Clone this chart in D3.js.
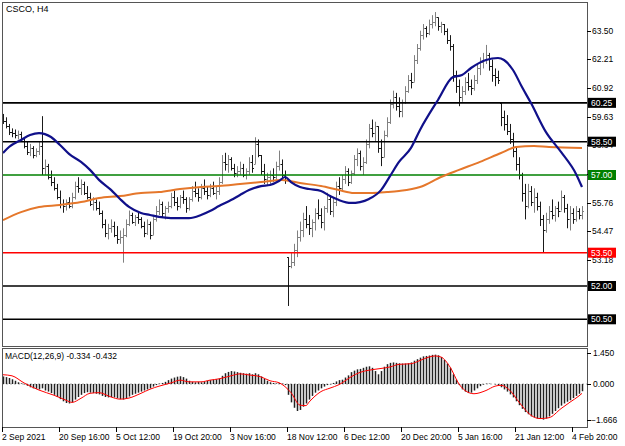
<!DOCTYPE html>
<html><head><meta charset="utf-8">
<script src="https://cdn.jsdelivr.net/npm/d3@7"></script>
<style>
html,body{margin:0;padding:0;background:#fff;}
svg{display:block;font-family:"Liberation Sans",Arial,sans-serif;}
</style></head><body>
<svg id="c" width="625" height="446"></svg>
<script>
// ---------- DATA ----------
const symbolTitle = "CSCO, H4";
const barHigh = [
59.75,59.6,59.3,59.1,59.05,59.0,58.95,58.7,58.5,58.4,
58.3,58.2,58.5,59.65,57.7,57.5,57.2,56.9,56.6,56.3,
55.9,55.9,56.0,56.2,56.7,56.9,56.8,56.7,56.5,56.2,
56.0,55.9,55.8,55.4,55.0,54.8,55.0,54.9,54.7,54.5,
54.6,55.0,55.4,55.3,55.2,55.3,55.1,54.9,55.0,54.9,
55.1,55.6,55.9,55.8,55.6,55.8,56.2,56.3,56.0,56.1,
56.3,56.0,56.0,56.5,56.7,56.4,56.6,56.8,56.5,56.6,
56.7,56.5,56.9,57.9,58.0,57.9,57.8,57.5,57.4,57.6,
57.5,57.3,57.8,57.9,58.7,58.6,57.9,57.5,57.1,57.2,
57.3,57.6,58.1,57.7,57.2,53.3,53.5,53.9,54.5,54.9,
55.3,55.6,55.2,55.0,55.5,55.9,55.5,55.6,56.2,56.1,
56.0,56.7,56.9,57.0,57.4,57.3,57.2,57.9,58.2,58.1,
57.8,58.6,59.3,59.5,59.4,59.2,58.6,59.0,59.6,60.4,
60.8,60.7,60.5,60.4,61.0,61.5,61.6,62.4,62.9,63.5,
63.8,63.7,64.0,64.2,64.34,64.1,63.9,63.8,63.6,63.3,
62.9,61.7,61.3,61.0,61.4,61.6,61.3,61.5,62.0,62.3,
62.5,62.86,62.5,62.2,61.8,61.7,60.25,59.9,59.7,59.3,
58.9,58.3,57.8,57.1,56.6,56.6,56.5,56.4,56.2,55.8,
55.2,55.3,55.6,55.9,55.6,55.8,56.3,56.1,55.7,55.6,
55.5,55.6,55.5,55.6];
const barLow = [
59.3,59.1,58.8,58.7,58.65,58.6,58.55,58.2,57.9,57.85,
57.75,57.8,57.9,57.0,57.0,56.8,56.5,56.3,55.9,55.5,
55.3,55.4,55.5,55.5,55.9,56.2,56.1,56.1,55.9,55.6,
55.4,55.4,55.2,54.6,54.2,54.1,54.4,54.2,53.9,53.9,
53.05,54.2,54.7,54.8,54.7,54.8,54.6,54.2,54.3,54.1,
54.3,54.9,55.2,55.1,55.0,55.3,55.5,55.6,55.4,55.5,
55.7,55.3,55.4,55.8,56.0,55.8,55.9,56.1,55.9,56.0,
56.1,55.9,56.1,56.6,57.2,57.1,57.2,56.9,56.9,57.0,
56.9,56.8,57.0,57.1,57.5,57.8,57.0,56.6,56.5,56.6,
56.7,56.8,57.2,56.8,56.6,51.1,52.8,52.9,53.3,54.0,
54.2,54.6,54.3,54.2,54.5,55.0,54.6,54.5,55.3,55.2,
55.1,55.6,56.1,56.3,56.6,56.5,56.6,57.0,57.4,57.2,
57.0,57.5,58.2,58.7,58.5,58.0,57.4,57.8,58.7,59.3,
60.0,59.9,59.6,59.6,60.2,60.7,60.9,61.2,62.0,62.6,
63.1,63.2,63.3,63.6,63.7,63.5,63.4,63.3,62.9,62.6,
61.2,60.7,60.1,60.3,60.6,60.8,60.6,60.8,61.1,61.5,
61.8,62.0,61.7,61.2,61.0,61.1,59.2,59.0,58.8,58.4,
57.8,57.2,56.8,55.8,55.0,55.5,55.6,55.3,55.4,54.7,
53.5,54.4,54.8,55.0,54.9,55.1,55.4,55.3,54.6,54.5,
54.8,54.9,55.0,55.0];
const barClose = [
59.45,59.2,58.95,58.9,58.8,58.85,58.65,58.3,58.05,58.2,
57.9,58.1,58.3,57.3,57.4,56.9,56.7,56.4,56.0,55.7,
55.6,55.8,55.6,56.0,56.5,56.4,56.6,56.2,56.0,55.7,
55.8,55.5,55.3,54.8,54.4,54.6,54.7,54.3,54.1,54.2,
54.3,54.8,55.2,54.9,55.1,55.0,54.7,54.4,54.8,54.3,
55.0,55.4,55.7,55.3,55.5,55.6,56.0,55.8,55.6,56.0,
55.9,55.5,55.9,56.3,56.2,56.0,56.4,56.3,56.1,56.4,
56.2,56.3,56.7,57.6,57.5,57.7,57.3,57.1,57.2,57.3,
57.0,57.2,57.6,57.3,58.4,57.9,57.2,56.8,56.9,57.0,
56.9,57.4,57.5,57.0,56.9,52.9,53.1,53.6,54.2,54.5,
55.0,54.8,54.6,54.9,55.3,55.2,54.9,55.5,55.9,55.4,
55.8,56.5,56.4,56.8,57.2,56.7,57.1,57.7,58.0,57.4,
57.6,58.4,59.1,58.9,59.2,58.2,57.8,58.8,59.4,60.2,
60.5,60.1,59.9,60.3,60.8,61.3,61.2,62.2,62.7,63.3,
63.6,63.4,63.8,63.9,64.1,63.7,63.8,63.5,63.1,62.8,
61.5,61.0,60.5,60.8,61.2,61.0,60.9,61.3,61.8,62.1,
62.2,62.4,61.9,61.5,61.4,61.3,59.6,59.3,59.0,58.6,
58.1,57.5,57.0,56.2,55.6,56.3,55.8,56.0,55.6,55.0,
54.5,55.0,55.4,55.2,55.5,55.4,56.0,55.5,55.0,55.3,
55.0,55.4,55.2,55.4];
const firstOpen = 59.6;

// blue moving average, sampled at bar indices
const maFastBars = [0,2,6,9,12,16,19,22,26,29,32,36,39,42,46,49,52,56,59,62,66,69,72,76,79,82,86,89,92,94,96,99,102,106,109,112,116,119,122,126,129,132,136,139,145,150,153,156,161,165,167,170,173,176,181,186,191,193];
const maFastVals = [57.99,58.26,58.58,58.80,58.89,58.71,58.35,57.95,57.59,57.23,56.78,56.33,55.92,55.56,55.29,55.20,55.11,55.06,55.06,55.06,55.20,55.38,55.60,55.87,56.10,56.32,56.50,56.55,56.73,56.91,56.68,56.46,56.37,56.28,56.05,55.87,55.74,55.78,55.92,56.32,56.95,57.59,58.22,59.03,60.38,61.41,61.50,61.82,62.18,62.27,62.18,61.73,60.96,60.24,58.93,58.04,57.05,56.46];
// orange moving average, sampled at bar indices
const maSlowBars = [0,6,12,19,26,32,39,46,52,59,66,72,79,86,93,99,106,112,117,123,128,132,139,146,152,159,166,171,177,182,193];
const maSlowVals = [54.97,55.33,55.56,55.65,55.78,55.96,56.05,56.19,56.23,56.37,56.46,56.50,56.59,56.68,56.77,56.64,56.50,56.32,56.19,56.19,56.23,56.28,56.46,56.91,57.23,57.59,57.99,58.26,58.31,58.26,58.22];

const levelValues = [60.25, 58.50, 57.00, 53.50, 52.00, 50.50];
const levelKinds = ["black","black","green","red","black","black"];
const priceTicks = [63.50, 62.21, 60.92, 59.63, 58.34, 57.05, 55.76, 54.47, 53.18];

// MACD main (histogram), one per bar
const macdMain = [
0.35,0.32,0.28,0.22,0.15,0.08,0.03,-0.02,-0.08,-0.15,
-0.2,-0.22,-0.25,-0.2,-0.3,-0.35,-0.42,-0.5,-0.6,-0.7,
-0.8,-0.88,-0.9,-0.85,-0.72,-0.6,-0.5,-0.42,-0.38,-0.4,
-0.42,-0.45,-0.48,-0.55,-0.6,-0.62,-0.6,-0.62,-0.66,-0.7,
-0.72,-0.66,-0.58,-0.5,-0.45,-0.4,-0.35,-0.3,-0.25,-0.2,
-0.12,-0.05,0.02,0.05,0.1,0.18,0.25,0.3,0.34,0.36,
0.32,0.25,0.15,0.1,0.08,0.1,0.08,0.12,0.15,0.18,
0.2,0.22,0.25,0.38,0.5,0.56,0.6,0.58,0.55,0.52,
0.5,0.48,0.5,0.45,0.5,0.45,0.35,0.25,0.15,0.08,
0.05,0.03,0.05,0.02,-0.05,-0.5,-0.85,-1.1,-1.25,-1.2,
-1.05,-0.9,-0.72,-0.55,-0.4,-0.3,-0.2,-0.12,-0.05,-0.02,
0.05,0.12,0.18,0.2,0.3,0.4,0.55,0.62,0.68,0.7,
0.75,0.8,0.82,0.75,0.6,0.45,0.6,0.8,0.92,0.98,
1.0,0.98,0.96,0.95,0.95,0.96,1.0,1.08,1.15,1.22,
1.28,1.3,1.32,1.35,1.36,1.33,1.25,1.12,0.95,0.75,
0.45,0.2,-0.05,-0.25,-0.35,-0.42,-0.4,-0.3,-0.2,-0.1,
-0.03,0.02,0.02,0.0,-0.02,-0.05,-0.15,-0.25,-0.35,-0.48,
-0.62,-0.8,-0.98,-1.15,-1.3,-1.4,-1.5,-1.55,-1.6,-1.62,
-1.65,-1.6,-1.5,-1.38,-1.25,-1.12,-1.0,-0.9,-0.82,-0.75,
-0.65,-0.55,-0.45,-0.334];
// MACD signal, sampled at bar indices
const signalBars = [0,3,7,12,17,21,23,26,29,32,36,39,42,46,49,52,56,59,62,66,69,72,76,79,82,86,89,92,96,99,101,102,106,109,112,116,119,122,126,129,132,136,139,142,144,146,149,152,154,157,161,164,166,169,172,176,179,182,186,189,192,193];
const signalVals = [0.43,0.38,0.05,-0.28,-0.52,-0.75,-0.85,-0.66,-0.43,-0.4,-0.6,-0.7,-0.65,-0.43,-0.24,-0.1,0.05,0.18,0.1,0.1,0.18,0.24,0.38,0.47,0.42,0.33,0.15,0.06,-0.4,-0.98,-1.0,-0.84,-0.35,-0.19,-0.03,0.33,0.54,0.64,0.72,0.79,0.91,0.94,1.09,1.25,1.30,1.25,0.79,0.0,-0.3,-0.45,-0.3,-0.1,-0.06,-0.3,-0.84,-1.45,-1.6,-1.56,-1.14,-0.84,-0.55,-0.432];
const macdTicks = [1.450, 0.000, -1.666];
const macdLabel = "MACD(12,26,9) -0.334 -0.432";

const timeLabels = ["2 Sep 2021","20 Sep 16:00","5 Oct 12:00","19 Oct 20:00","3 Nov 16:00","18 Nov 12:00","6 Dec 12:00","20 Dec 20:00","5 Jan 16:00","21 Jan 12:00","4 Feb 20:00"];
const timeLabelBars = [0,19,38,57,76,95,114,133,152,171,190];

// ---------- LAYOUT ----------
const L = 2, R = 587, mainTop = 2, mainBot = 346, subTop = 348, subBot = 427;
const FONT = 8.5;
const svg = d3.select("#c");
const N = barClose.length;

const x = d3.scaleLinear().domain([0, N - 1]).range([3, 3 + 3 * (N - 1)]);
const y = d3.scaleLinear().domain([49.297, 64.793]).range([mainBot, mainTop]);
const ym = d3.scaleLinear().domain([-1.666, 1.450]).range([420, 352.7]);

svg.append("rect").attr("width", 625).attr("height", 446).attr("fill", "#fff");

const defs = svg.append("defs");
defs.append("clipPath").attr("id", "cm").append("rect")
  .attr("x", L).attr("y", mainTop).attr("width", R - L).attr("height", mainBot - mainTop);
defs.append("clipPath").attr("id", "cs").append("rect")
  .attr("x", L).attr("y", subTop).attr("width", R - L).attr("height", subBot - subTop);

const gMain = svg.append("g").attr("clip-path", "url(#cm)");
const gSub = svg.append("g").attr("clip-path", "url(#cs)");

// ---------- PRICE BARS ----------
const bars = barClose.map((c, i) => {
  const prev = i === 0 ? firstOpen : barClose[i - 1];
  const o = Math.min(Math.max(prev, barLow[i]), barHigh[i]);
  return { i, o, h: barHigh[i], l: barLow[i], c };
});
gMain.append("g").selectAll("path").data(bars).join("path")
  .attr("d", d => {
    const xc = Math.round(x(d.i)) + 0.5;
    const yo = Math.round(y(d.o)) + 0.5, yc = Math.round(y(d.c)) + 0.5;
    return `M${xc},${y(d.h)}V${y(d.l)}M${xc - 1.5},${yo}H${xc}M${xc},${yc}H${xc + 1.5}`;
  })
  .attr("fill", "none")
  .attr("stroke", d => d.c >= d.o ? "#808080" : "#1a1a1a")
  .attr("stroke-width", 1);

// ---------- LEVELS ----------
const kindColor = { black: "#000000", green: "#008000", red: "#ff0000" };
gMain.append("g").selectAll("line").data(levelValues).join("line")
  .attr("x1", L).attr("x2", R)
  .attr("y1", d => y(d)).attr("y2", d => y(d))
  .attr("stroke", (d, i) => kindColor[levelKinds[i]])
  .attr("stroke-width", 1.6);

// ---------- MOVING AVERAGES ----------
const maLine = d3.line().x(d => x(d[0])).y(d => y(d[1])).curve(d3.curveMonotoneX);
gMain.append("path").datum(maSlowBars.map((b, k) => [b, maSlowVals[k]]))
  .attr("d", maLine).attr("fill", "none").attr("stroke", "#e5772b").attr("stroke-width", 2);
gMain.append("path").datum(maFastBars.map((b, k) => [b, maFastVals[k]]))
  .attr("d", maLine).attr("fill", "none").attr("stroke", "#10108a").attr("stroke-width", 2.2);

// ---------- MACD ----------
gSub.append("line").attr("x1", L).attr("x2", R).attr("y1", ym(0)).attr("y2", ym(0))
  .attr("stroke", "#b0b0b0").attr("stroke-dasharray", "2,2");
gSub.append("g").selectAll("line").data(macdMain).join("line")
  .attr("x1", (d, i) => Math.round(x(i)) + 0.5).attr("x2", (d, i) => Math.round(x(i)) + 0.5)
  .attr("y1", ym(0)).attr("y2", d => ym(d))
  .attr("stroke", "#222").attr("stroke-width", 1.5);
const sigLine = d3.line().x(d => x(d[0])).y(d => ym(d[1])).curve(d3.curveMonotoneX);
gSub.append("path").datum(signalBars.map((b, k) => [b, signalVals[k]]))
  .attr("d", sigLine).attr("fill", "none").attr("stroke", "#ff0000").attr("stroke-width", 1);

// ---------- FRAMES ----------
svg.append("rect").attr("x", L + 0.5).attr("y", mainTop + 0.5).attr("width", R - L).attr("height", mainBot - mainTop)
  .attr("fill", "none").attr("stroke", "#555");
svg.append("rect").attr("x", L + 0.5).attr("y", subTop + 0.5).attr("width", R - L).attr("height", subBot - subTop)
  .attr("fill", "none").attr("stroke", "#555");

// ---------- TEXTS ----------
svg.append("text").attr("x", 6).attr("y", 11.5).attr("font-size", 9).attr("fill", "#000").text(symbolTitle);
svg.append("text").attr("x", 5).attr("y", 359).attr("font-size", FONT).attr("fill", "#000").text(macdLabel);

// price axis
const pa = svg.append("g");
pa.selectAll("line").data(priceTicks).join("line")
  .attr("x1", R).attr("x2", R + 4).attr("y1", d => Math.round(y(d)) + 0.5).attr("y2", d => Math.round(y(d)) + 0.5)
  .attr("stroke", "#000");
pa.selectAll("text").data(priceTicks).join("text")
  .attr("x", R + 5).attr("y", d => y(d)).attr("dy", "0.35em")
  .attr("font-size", FONT).attr("fill", "#000").text(d => d3.format(".2f")(d));

// level labels
const ll = svg.append("g");
levelValues.forEach((v, i) => {
  const yy = y(v);
  ll.append("rect").attr("x", R + 1).attr("y", yy - 5).attr("width", 28).attr("height", 10)
    .attr("fill", kindColor[levelKinds[i]]);
  ll.append("text").attr("x", R + 4).attr("y", yy).attr("dy", "0.35em")
    .attr("font-size", FONT).attr("fill", "#fff").text(d3.format(".2f")(v));
});

// macd axis
const ma = svg.append("g");
ma.selectAll("line").data(macdTicks).join("line")
  .attr("x1", R).attr("x2", R + 4).attr("y1", d => Math.round(ym(d)) + 0.5).attr("y2", d => Math.round(ym(d)) + 0.5)
  .attr("stroke", "#000");
ma.selectAll("text").data(macdTicks).join("text")
  .attr("x", (d) => d < 0 ? R + 4 : R + 6).attr("y", d => ym(d)).attr("dy", "0.35em")
  .attr("font-size", FONT).attr("fill", "#000").text(d => d3.format(".3f")(d));

// time axis
const ta = svg.append("g");
ta.selectAll("line").data(timeLabelBars).join("line")
  .attr("x1", d => Math.round(x(d)) - 0.5).attr("x2", d => Math.round(x(d)) - 0.5)
  .attr("y1", subBot).attr("y2", subBot + 5).attr("stroke", "#000");
ta.selectAll("text").data(timeLabels).join("text")
  .attr("x", (d, k) => x(timeLabelBars[k]) - 1).attr("y", 439.5)
  .attr("font-size", FONT).attr("fill", "#000").text(d => d);
</script>
</body></html>
